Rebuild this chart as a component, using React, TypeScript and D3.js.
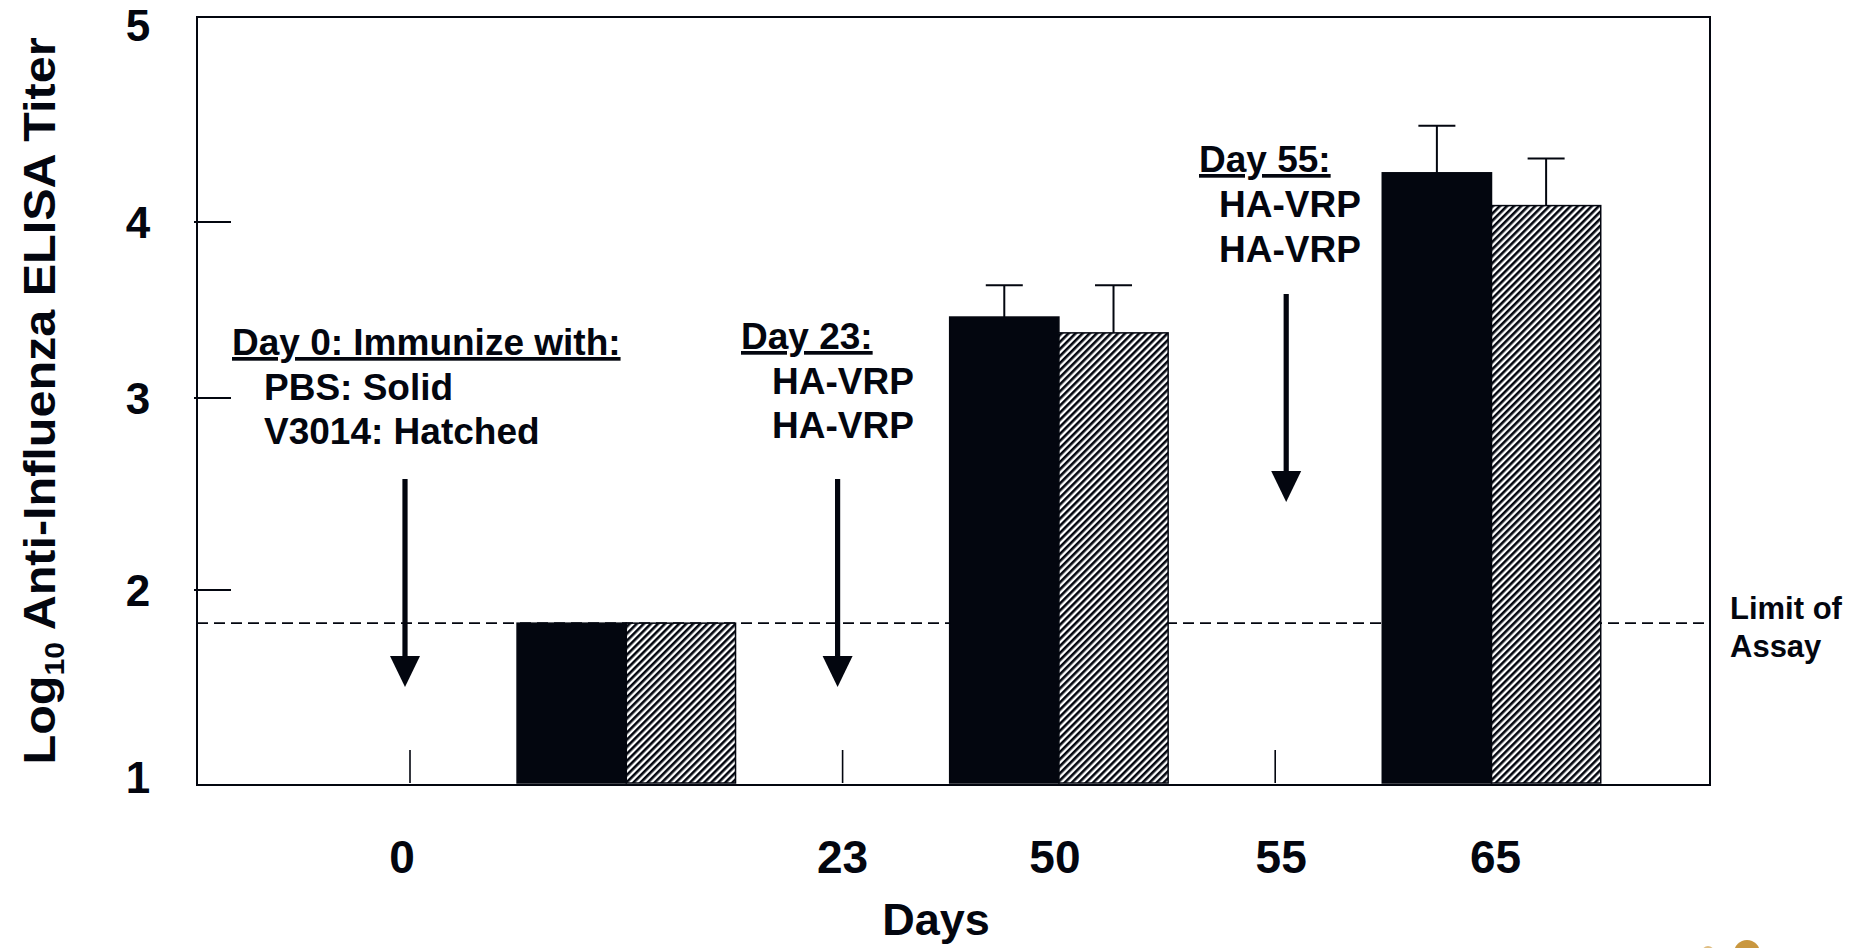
import React from "react";
import * as d3 from "d3";

// Evenly spaced positions along the time axis and their day labels
const slotDays = ["0", "", "23", "50", "55", "65"];
// Positions that carry an immunization (tick mark + arrow)
const doseSlots = [0, 2, 4];
// Positions where titers were measured
const bleedSlots = [1, 3, 5];

// Log10 ELISA titers (mean) and upper error
const pbsTiter = [1.83, 3.46, 4.24];
const pbsErr = [0, 0.18, 0.23];
const v3014Titer = [1.83, 3.37, 4.08];
const v3014Err = [0, 0.27, 0.23];

const assayLimit = 1.83;
const yTickValues = [1, 2, 3, 4, 5];
// Axis breakpoints (values) used by the piecewise scale
const yBreaks = [1, 2, 3, 4, 5];

const W = 1867;
const H = 948;
const frame = { left: 197, right: 1710, top: 17, bottom: 785 };
const ink = "#03060f";
const font = "'Liberation Sans', Arial, Helvetica, sans-serif";

export default function App() {
  const x = d3
    .scalePoint<number>()
    .domain(d3.range(slotDays.length))
    .range([410, 1491.5]);
  const y = d3
    .scaleLinear()
    .domain(yBreaks)
    .range([frame.bottom, 590, 398, 222, frame.top]);

  const barW = x.step() * 0.505;
  const capHalf = 18.5;

  const arrowDx = [-5, -5, 11];
  const arrowTop = [479, 479, 294];
  const arrowTip = [687, 687, 502];
  const labelDx = [-8, 0, 0, -4, 6, 4];

  const series = [
    { key: "pbs", vals: pbsTiter, err: pbsErr, fill: ink, side: -1 },
    { key: "v3014", vals: v3014Titer, err: v3014Err, fill: "url(#hatch)", side: 1 },
  ];

  return (
    <svg
      width={W}
      height={H}
      style={{ position: "absolute", left: 0, top: 0, background: "#fff" }}
      fontFamily={font}
    >
      <defs>
        <pattern
          id="hatch"
          width={5}
          height={5}
          patternUnits="userSpaceOnUse"
          patternTransform="rotate(45)"
        >
          <rect width={5} height={5} fill="#fff" />
          <rect width={2.6} height={5} fill={ink} />
        </pattern>
      </defs>
      <rect width={W} height={H} fill="#fff" />

      {/* limit of assay */}
      <line
        x1={frame.left}
        x2={frame.right}
        y1={y(assayLimit)}
        y2={y(assayLimit)}
        stroke={ink}
        strokeWidth={1.6}
        strokeDasharray="11 6"
      />

      {/* bars */}
      {series.map((s) =>
        bleedSlots.map((slot, i) => {
          const cx = x(slot)!;
          const x0 = s.side < 0 ? cx - barW : cx;
          return (
            <g key={s.key + i}>
              <rect
                x={x0}
                y={y(s.vals[i])}
                width={barW}
                height={y(1) - y(s.vals[i]) - 2}
                fill={s.fill}
                stroke={ink}
                strokeWidth={1.5}
              />
              {s.err[i] > 0 && (
                <g stroke={ink} strokeWidth={2}>
                  <line
                    x1={x0 + barW / 2}
                    x2={x0 + barW / 2}
                    y1={y(s.vals[i])}
                    y2={y(s.vals[i] + s.err[i])}
                  />
                  <line
                    x1={x0 + barW / 2 - capHalf}
                    x2={x0 + barW / 2 + capHalf}
                    y1={y(s.vals[i] + s.err[i])}
                    y2={y(s.vals[i] + s.err[i])}
                  />
                </g>
              )}
            </g>
          );
        })
      )}

      {/* frame */}
      <rect
        x={frame.left}
        y={frame.top}
        width={frame.right - frame.left}
        height={frame.bottom - frame.top}
        fill="none"
        stroke={ink}
        strokeWidth={2}
      />

      {/* y ticks and labels */}
      {yTickValues.map((v) => (
        <g key={"yt" + v}>
          {v > 1 && v < 5 && (
            <line
              x1={frame.left - 3}
              x2={frame.left + 34}
              y1={y(v)}
              y2={y(v)}
              stroke={ink}
              strokeWidth={2}
            />
          )}
          <text
            x={138}
            y={Math.min(Math.max(y(v), 25), 777)}
            dy="0.36em"
            textAnchor="middle"
            fontSize={44}
            fontWeight="bold"
            fill={ink}
          >
            {v}
          </text>
        </g>
      ))}

      {/* x tick marks at dosing days */}
      {doseSlots.map((slot) => (
        <line
          key={"xt" + slot}
          x1={x(slot)}
          x2={x(slot)}
          y1={750}
          y2={783}
          stroke={ink}
          strokeWidth={1.6}
        />
      ))}

      {/* x labels */}
      {slotDays.map((d, i) =>
        d ? (
          <text
            key={"xl" + i}
            x={x(i)! + labelDx[i]}
            y={873}
            textAnchor="middle"
            fontSize={46}
            fontWeight="bold"
            fill={ink}
          >
            {d}
          </text>
        ) : null
      )}

      {/* dosing arrows */}
      {doseSlots.map((slot, i) => {
        const ax = x(slot)! + arrowDx[i];
        const headH = 31;
        const headW = 15;
        return (
          <g key={"ar" + slot} fill={ink}>
            <rect
              x={ax - 2.6}
              y={arrowTop[i]}
              width={5.2}
              height={arrowTip[i] - headH - arrowTop[i] + 2}
            />
            <path
              d={`M${ax - headW},${arrowTip[i] - headH} L${ax + headW},${arrowTip[i] - headH} L${ax},${arrowTip[i]} Z`}
            />
          </g>
        );
      })}

      {/* annotations */}
      <g fontSize={37} fontWeight="bold" fill={ink}>
        <text x={232} y={355} style={{ textDecoration: "underline" }}>
          Day 0: Immunize with:
        </text>
        <text x={264} y={400}>PBS: Solid</text>
        <text x={264} y={444}>V3014: Hatched</text>

        <text x={741} y={349} style={{ textDecoration: "underline" }}>
          Day 23:
        </text>
        <text x={772} y={394}>HA-VRP</text>
        <text x={772} y={438}>HA-VRP</text>

        <text x={1199} y={172} style={{ textDecoration: "underline" }}>
          Day 55:
        </text>
        <text x={1219} y={217}>HA-VRP</text>
        <text x={1219} y={262}>HA-VRP</text>
      </g>

      <g fontSize={31} fontWeight="bold" fill={ink}>
        <text x={1730} y={619}>Limit of</text>
        <text x={1730} y={657}>Assay</text>
      </g>

      {/* axis titles */}
      <text
        x={936}
        y={935}
        textAnchor="middle"
        fontSize={45}
        fontWeight="bold"
        fill={ink}
      >
        Days
      </text>
      <text
        transform="translate(55,401) rotate(-90)"
        textAnchor="middle"
        fontSize={45}
        fontWeight="bold"
        fill={ink}
        textLength={727}
        lengthAdjust="spacingAndGlyphs"
      >
        Log
        <tspan fontSize={28} dy={9}>
          10
        </tspan>
        <tspan dy={-9}> Anti-Influenza ELISA Titer</tspan>
      </text>

      {/* corner emblem */}
      <circle cx={1747} cy={953} r={13} fill="#c9973f" />
      <circle cx={1708} cy={952} r={6} fill="#d7ad62" opacity={0.8} />
    </svg>
  );
}
